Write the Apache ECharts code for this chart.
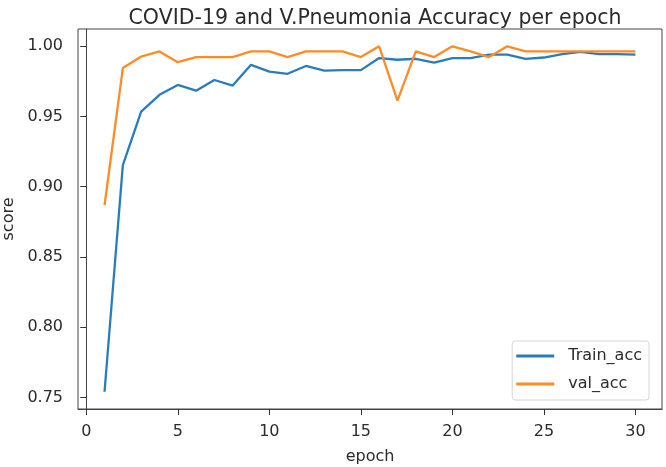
<!DOCTYPE html>
<html>
<head>
<meta charset="utf-8">
<script src="https://cdn.jsdelivr.net/npm/echarts@6/dist/echarts.min.js"></script>
<style>
  html, body { margin: 0; padding: 0; background: #fff; }
  #chart { width: 666px; height: 467px; }
</style>
</head>
<body>
<div id="chart"></div>
<script>
// 数据
const epochs = [1, 2, 3, 4, 5, 6, 7, 8, 9, 10, 11, 12, 13, 14, 15, 16, 17, 18, 19, 20, 21, 22, 23, 24, 25, 26, 27, 28, 29, 30]
const trainAcc = [0.754, 0.9154, 0.9534, 0.9654, 0.9725, 0.9684, 0.976, 0.972, 0.9868, 0.982,
  0.9804, 0.986, 0.9827, 0.983, 0.983, 0.9916, 0.9904, 0.9911, 0.9884, 0.9916,
  0.9916, 0.994, 0.994, 0.991, 0.992, 0.9944, 0.996, 0.9944, 0.9944, 0.994]
const valAcc = [0.8868, 0.9845, 0.9927, 0.9963, 0.9887, 0.9923, 0.9923, 0.9923, 0.9963, 0.9963,
  0.9923, 0.9963, 0.9963, 0.9963, 0.9923, 1.0, 0.9613, 0.9963, 0.9923, 1.0,
  0.9963, 0.9923, 1.0, 0.9963, 0.9963, 0.9963, 0.9963, 0.9963, 0.9963, 0.9963]
const xTicks = [0, 5, 10, 15, 20, 25, 30]
const yTicks = [0.75, 0.80, 0.85, 0.90, 0.95, 1.00]

const font = 'DejaVu Sans'
const textColor = '#2b2b2b'

const myChart = echarts.init(document.getElementById('chart'))
const option = {
  animation: false,
  textStyle: { fontFamily: font },
  title: {
    text: 'COVID-19 and V.Pneumonia Accuracy per epoch',
    left: 370,
    textAlign: 'center',
    top: 3,
    textStyle: { fontFamily: font, fontSize: 20.5, fontWeight: 'normal', color: textColor }
  },
  legend: {
    orient: 'vertical',
    right: 17,
    bottom: 67,
    icon: 'rect',
    itemWidth: 38,
    itemHeight: 3,
    itemGap: 10,
    padding: [6, 7, 7, 4],
    borderColor: '#d6d6d6',
    borderWidth: 1,
    borderRadius: 3,
    backgroundColor: '#fff',
    textStyle: { fontFamily: font, fontSize: 16, lineHeight: 18, color: textColor, padding: [0, 0, 0, 9] },
    data: ['Train_acc', 'val_acc']
  },
  grid: {
    left: 78,
    right: 4,
    top: 29,
    bottom: 58,
    outerBoundsMode: 'none',
    show: true,
    borderColor: '#444',
    borderWidth: 1
  },
  xAxis: {
    type: 'value',
    min: -0.45,
    max: 31.45,
    name: 'epoch',
    nameLocation: 'middle',
    nameGap: 40,
    nameTextStyle: { fontFamily: font, fontSize: 16, color: textColor },
    splitLine: { show: false },
    axisLine: { show: true, lineStyle: { color: '#444' } },
    axisTick: { show: true, length: 6, customValues: xTicks, lineStyle: { color: '#333' } },
    axisLabel: { customValues: xTicks, fontSize: 16, color: textColor, margin: 15 }
  },
  yAxis: {
    type: 'value',
    min: 0.7417,
    max: 1.0123,
    name: 'score',
    nameLocation: 'middle',
    nameGap: 54,
    nameTextStyle: { fontFamily: font, fontSize: 16, color: textColor },
    splitLine: { show: false },
    axisLine: { show: true, lineStyle: { color: '#444' } },
    axisTick: { show: true, length: 6, customValues: yTicks, lineStyle: { color: '#333' } },
    axisLabel: {
      customValues: yTicks,
      fontSize: 16,
      color: textColor,
      margin: 15,
      formatter: v => v.toFixed(2)
    }
  },
  series: [
    {
      name: 'Train_acc',
      type: 'line',
      showSymbol: false,
      color: '#2a7dba',
      lineStyle: { width: 2.3 },
      data: epochs.map((e, i) => [e, trainAcc[i]])
    },
    {
      name: 'val_acc',
      type: 'line',
      showSymbol: false,
      color: '#ff8c26',
      lineStyle: { width: 2.3 },
      data: epochs.map((e, i) => [e, valAcc[i]])
    }
  ]
}
myChart.setOption(option)
</script>
</body>
</html>
